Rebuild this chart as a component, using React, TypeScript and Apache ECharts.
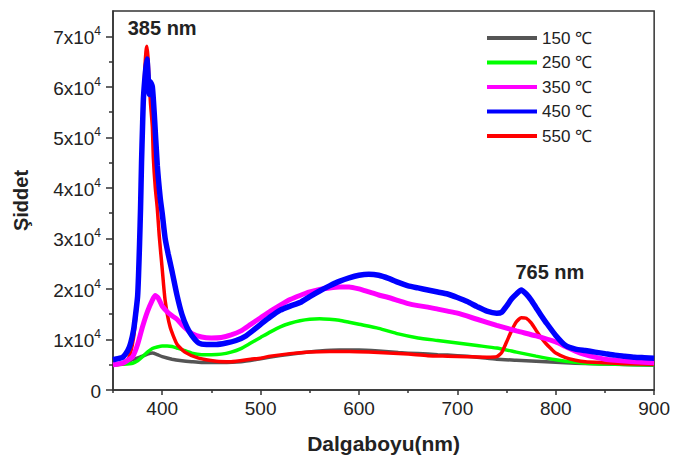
import React, { useEffect, useRef } from "react";
import * as echarts from "echarts";

// ---- Data ----
const seriesNames = ["150 ℃", "250 ℃", "350 ℃", "450 ℃", "550 ℃"];
const seriesColors = ["#555555", "#00ff00", "#ff00ff", "#0000ff", "#ff0000"];

const wl150 = [350, 360, 370, 380, 385, 390, 395, 400, 410, 420, 430, 440, 460, 480, 500, 520, 540, 560, 580, 600, 620, 640, 660, 680, 700, 720, 740, 760, 780, 800, 820, 840, 860, 880, 900];
const val150 = [5000, 5300, 6000, 6700, 7100, 7300, 7000, 6600, 6100, 5800, 5600, 5450, 5450, 5600, 6200, 6800, 7300, 7700, 7900, 7900, 7700, 7400, 7200, 7000, 6800, 6500, 6100, 5900, 5700, 5500, 5300, 5200, 5100, 5000, 4900];

const wl250 = [350, 360, 370, 375, 380, 385, 390, 395, 400, 405, 410, 415, 420, 430, 440, 450, 460, 470, 480, 490, 500, 510, 520, 530, 540, 550, 560, 570, 580, 590, 600, 620, 640, 660, 680, 700, 720, 740, 760, 780, 800, 820, 840, 860, 880, 900];
const val250 = [5000, 5100, 5300, 5800, 6600, 7500, 8200, 8500, 8700, 8700, 8600, 8300, 8000, 7300, 7000, 7000, 7100, 7500, 8200, 9300, 10400, 11500, 12500, 13200, 13700, 14000, 14100, 14000, 13800, 13400, 13000, 12200, 11100, 10300, 9800, 9300, 8800, 8300, 7500, 6700, 6000, 5500, 5200, 5100, 5000, 5000];

const wl350 = [350, 360, 365, 370, 375, 380, 385, 390, 393, 396, 400, 405, 410, 415, 420, 425, 430, 440, 450, 460, 470, 480, 490, 500, 510, 520, 530, 540, 550, 560, 570, 580, 590, 600, 610, 620, 630, 640, 650, 660, 670, 680, 690, 700, 720, 740, 760, 780, 800, 810, 820, 830, 840, 850, 860, 880, 900];
const val350 = [5000, 5300, 5900, 6600, 9000, 12500, 15500, 17800, 18700, 18200, 16600, 15500, 14700, 14000, 12900, 12000, 11200, 10500, 10300, 10400, 10900, 11700, 13000, 14300, 15600, 16800, 17900, 18700, 19400, 19900, 20200, 20400, 20400, 20000, 19400, 18800, 18300, 17700, 17100, 16700, 16400, 16000, 15600, 15200, 14000, 12800, 11700, 10700, 9500, 8600, 7700, 7000, 6500, 6100, 5900, 5600, 5400];

const wl450 = [350, 355, 360, 365, 368, 371, 373, 375, 376, 377, 378, 379, 380, 381, 383, 384.5, 386, 387, 388, 390, 392, 395, 398, 400, 403, 406, 410, 415, 420, 425, 430, 437, 445, 455, 465, 475, 485, 500, 510, 520, 530, 540, 550, 560, 570, 580, 590, 600, 610, 620, 630, 640, 650, 660, 670, 680, 690, 700, 710, 720, 730, 740, 745, 750, 755, 760, 765, 770, 775, 780, 785, 790, 800, 810, 820, 830, 840, 850, 860, 870, 880, 890, 900];
const val450 = [6000, 6200, 6500, 7800, 9300, 12000, 15000, 18500, 23000, 29000, 36000, 45000, 52000, 58000, 63000, 65500, 61000, 58500, 61000, 60000, 54500, 44500, 38000, 35000, 30000, 27000, 23500, 18800, 15000, 12500, 10800, 9300, 9000, 9000, 9300, 9800, 10700, 13000, 14500, 15800, 16600, 17300, 18500, 19600, 20600, 21500, 22200, 22700, 22900, 22700, 22100, 21300, 20600, 20200, 19800, 19400, 19000, 18300, 17500, 16500, 15600, 15200, 15400, 16600, 18000, 19000, 19800, 19000, 17800, 16300, 14800, 13400, 10800, 8800, 8100, 7800, 7500, 7200, 6900, 6700, 6500, 6400, 6300];

const wl550 = [350, 360, 365, 368, 371, 373, 375, 376, 377, 378, 379, 380, 382, 383.5, 384.5, 385.5, 386.5, 388, 390, 391, 393, 395, 397, 400, 403, 408, 415, 423, 437, 455, 470, 490, 500, 510, 530, 550, 570, 590, 610, 630, 650, 670, 690, 710, 730, 740, 745, 750, 755, 760, 765, 770, 775, 780, 785, 790, 795, 800, 810, 820, 830, 850, 870, 900];
const val550 = [5000, 5200, 6000, 7500, 10500, 14000, 18000, 22000, 28000, 36000, 44000, 51000, 62000, 67000, 68000, 66000, 62000, 57000, 52000, 46000, 40000, 36000, 30500, 24000, 17700, 12500, 9100, 7500, 6300, 5700, 5600, 6100, 6300, 6700, 7200, 7500, 7600, 7600, 7500, 7300, 7100, 6800, 6700, 6600, 6500, 6600, 7400, 9500, 11700, 13500, 14300, 14200, 13300, 11800, 10400, 9200, 8200, 7300, 6400, 5900, 5600, 5400, 5200, 5100];

const allWl = [wl150, wl250, wl350, wl450, wl550];
const allVal = [val150, val250, val350, val450, val550];
const lineWidths = [3.5, 3.5, 5, 5.5, 3.5];
const drawOrder = [0, 1, 4, 2, 3];

const xMajorTicks = [400, 500, 600, 700, 800, 900];
const xMinorTicks = [350, 450, 550, 650, 750, 850];
const yMajorTicks = [0, 10000, 20000, 30000, 40000, 50000, 60000, 70000];
const yMinorTicks = [5000, 15000, 25000, 35000, 45000, 55000, 65000];

const annotationLabels = ["385 nm", "765 nm"];
const annotationX = [400, 794];
const annotationY = [71700, 23400];

const FONT = "'Liberation Sans', Arial, sans-serif";
const TEXT = "#222222";
const AXIS = "#333333";

export default function App() {
  const ref = useRef<HTMLDivElement>(null);

  useEffect(() => {
    document.body.style.margin = "0";
    if (!ref.current) return;
    const chart = echarts.init(ref.current, undefined, { renderer: "svg" });

    const series: any[] = drawOrder.map((i) => ({
      name: seriesNames[i],
      type: "line",
      xAxisIndex: 0,
      yAxisIndex: 0,
      showSymbol: false,
      symbol: "none",
      smooth: 0.2,
      data: allWl[i].map((w, k) => [w, allVal[i][k]]),
      lineStyle: { color: seriesColors[i], width: lineWidths[i] },
      itemStyle: { color: seriesColors[i] },
      z: 2 + drawOrder.indexOf(i),
    }));

    series.push({
      name: "annotations",
      type: "scatter",
      xAxisIndex: 0,
      yAxisIndex: 0,
      symbolSize: 0,
      itemStyle: { color: "#ffffff", opacity: 1 },
      data: annotationLabels.map((t, k) => ({ name: t, value: [annotationX[k], annotationY[k]] })),
      label: {
        show: true,
        position: "inside",
        formatter: "{b}",
        fontFamily: FONT,
        fontWeight: "bold",
        fontSize: 20,
        color: TEXT,
        opacity: 1,
        textBorderWidth: 0,
        textBorderColor: "transparent",
      },
      z: 10,
      silent: true,
    });

    chart.setOption({
      animation: false,
      backgroundColor: "#ffffff",
      textStyle: { fontFamily: FONT },
      grid: {
        left: 113,
        right: 17,
        top: 11,
        bottom: 68,
        show: true,
        borderColor: AXIS,
        borderWidth: 1.5,
        backgroundColor: "transparent",
      },
      legend: {
        data: seriesNames,
        orient: "vertical",
        left: 482,
        top: 23,
        icon: "rect",
        itemWidth: 50,
        itemHeight: 4,
        itemGap: 4.5,
        textStyle: {
          fontFamily: FONT,
          fontSize: 17,
          color: TEXT,
          lineHeight: 20,
        },
      },
      xAxis: [
        {
          type: "value",
          min: 350,
          max: 900,
          name: "Dalgaboyu(nm)",
          nameLocation: "middle",
          nameGap: 43,
          nameTextStyle: { fontFamily: FONT, fontWeight: "bold", fontSize: 21, color: TEXT },
          axisLine: { show: true, lineStyle: { color: AXIS, width: 1.5 } },
          axisTick: { show: true, customValues: xMajorTicks, length: 5, lineStyle: { color: AXIS, width: 1.5 } },
          axisLabel: { customValues: xMajorTicks, fontFamily: FONT, fontSize: 19, color: TEXT, margin: 9 },
          splitLine: { show: false },
        },
        {
          type: "value",
          min: 350,
          max: 900,
          position: "bottom",
          axisLine: { show: false },
          axisTick: { show: true, customValues: xMinorTicks, length: 3, lineStyle: { color: AXIS, width: 1.5 } },
          axisLabel: { show: false },
          splitLine: { show: false },
        },
      ],
      yAxis: [
        {
          type: "value",
          min: 0,
          max: 75000,
          name: "Şiddet",
          nameLocation: "middle",
          nameGap: 82,
          nameRotate: 90,
          nameTextStyle: { fontFamily: FONT, fontWeight: "bold", fontSize: 20, color: TEXT },
          axisLine: { show: true, lineStyle: { color: AXIS, width: 1.5 } },
          axisTick: { show: true, customValues: yMajorTicks, length: 7, lineStyle: { color: AXIS, width: 1.5 } },
          axisLabel: {
            customValues: yMajorTicks,
            margin: 12,
            fontFamily: FONT,
            color: TEXT,
            formatter: (v: number) => (v === 0 ? "{a|0}" : `{a|${Math.round(v / 10000)}x10}{sup|4}`),
            rich: {
              a: { fontFamily: FONT, fontSize: 19, color: TEXT, verticalAlign: "bottom", lineHeight: 22 },
              sup: { fontFamily: FONT, fontSize: 12, color: TEXT, verticalAlign: "top", lineHeight: 22, padding: [0, 0, 9, 0] },
            },
          },
          splitLine: { show: false },
        },
        {
          type: "value",
          min: 0,
          max: 75000,
          position: "left",
          axisLine: { show: false },
          axisTick: { show: true, customValues: yMinorTicks, length: 4, lineStyle: { color: AXIS, width: 1.5 } },
          axisLabel: { show: false },
          splitLine: { show: false },
        },
      ],
      series,
    });

    return () => chart.dispose();
  }, []);

  return (
    <div
      ref={ref}
      style={{ position: "fixed", left: 0, top: 0, width: 673, height: 459, background: "#fff" }}
    />
  );
}
